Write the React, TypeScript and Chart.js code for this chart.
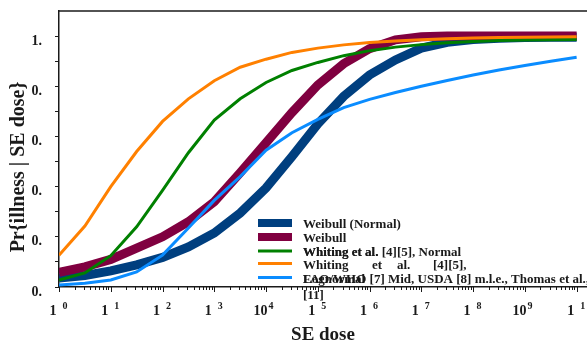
import React, { useEffect, useRef } from 'react';
import { Chart, registerables } from 'chart.js';

Chart.register(...registerables);

// SE dose (half-decade steps, 10^0 .. 10^10)
const doses = [1, 3.162, 10, 31.62, 100, 316.2, 1e3, 3162, 1e4, 3.162e4, 1e5, 3.162e5, 1e6, 3.162e6, 1e7, 3.162e7, 1e8, 3.162e8, 1e9, 3.162e9, 1e10];

const weibullNormal = [0.036, 0.046, 0.064, 0.088, 0.118, 0.16, 0.215, 0.295, 0.395, 0.52, 0.65, 0.76, 0.845, 0.905, 0.952, 0.975, 0.986, 0.991, 0.994, 0.995, 0.995];
const weibull = [0.058, 0.08, 0.11, 0.155, 0.2, 0.26, 0.34, 0.455, 0.575, 0.695, 0.805, 0.89, 0.95, 0.985, 0.997, 1.0, 1.0, 1.0, 1.0, 1.0, 1.0];
const whitingNormal = [0.028, 0.056, 0.125, 0.24, 0.385, 0.535, 0.665, 0.75, 0.815, 0.863, 0.895, 0.922, 0.942, 0.956, 0.966, 0.973, 0.978, 0.982, 0.984, 0.985, 0.986];
const whitingLognormal = [0.127, 0.243, 0.4, 0.54, 0.66, 0.75, 0.822, 0.876, 0.908, 0.935, 0.952, 0.965, 0.974, 0.98, 0.985, 0.989, 0.992, 0.994, 0.995, 0.996, 0.997];
const faoWho = [0.008, 0.015, 0.028, 0.06, 0.127, 0.235, 0.345, 0.44, 0.545, 0.615, 0.668, 0.715, 0.748, 0.775, 0.8, 0.823, 0.845, 0.865, 0.883, 0.9, 0.916];

const seriesLabels = [
  'Weibull (Normal)',
  'Weibull',
  'Whiting et al. [4][5], Normal',
  'Whiting et al. [4][5], Lognormal',
  'FAO/WHO [7] Mid, USDA [8] m.l.e., Thomas et al., [11]',
];

// x tick labels (base + superscript exponent), one per decade
const xTickBases = ['1', '1', '1', '1', '10', '1', '1', '1', '1', '10', '1'];
const xTickExps = ['0', '1', '2', '3', '4', '5', '6', '7', '8', '9', '1'];

// y tick labels for 0.0, 0.1, ... 1.0
const yTickText = ['0.', '', '0.', '', '0.', '', '0.', '', '0.', '', '1.'];

const yTitle = 'Pr{illness | SE dose}';
const xTitle = 'SE dose';

const FONT = '"Liberation Serif", "Times New Roman", serif';
const INK = '#1a1a1a';

const decoPlugin = {
  id: 'deco',
  afterDraw(chart: any) {
    const { ctx, chartArea: ca, scales } = chart;
    const xs = scales.x;
    ctx.save();

    // top frame line
    ctx.strokeStyle = INK;
    ctx.lineWidth = 1.5;
    ctx.beginPath();
    ctx.moveTo(ca.left, ca.top);
    ctx.lineTo(chart.width, ca.top);
    ctx.stroke();

    // x tick marks (major + minor)
    ctx.lineWidth = 1;
    for (let k = 0; k <= 10; k++) {
      for (let m = 1; m <= 9; m++) {
        const v = m * Math.pow(10, k);
        if (v > xs.max) break;
        const px = Math.round(xs.getPixelForValue(v)) + 0.5;
        const len = m === 1 ? 5 : 3;
        ctx.beginPath();
        ctx.moveTo(px, ca.bottom);
        ctx.lineTo(px, ca.bottom + len);
        ctx.stroke();
      }
    }

    // x tick labels
    ctx.fillStyle = INK;
    ctx.textBaseline = 'alphabetic';
    ctx.textAlign = 'center';
    xTickBases.forEach((b, k) => {
      const px = xs.getPixelForValue(Math.pow(10, k));
      const wide = b.length > 1;
      ctx.font = `bold 14px ${FONT}`;
      ctx.fillText(b, px + (wide ? -5.5 : -6), 315);
      ctx.font = `bold 10px ${FONT}`;
      ctx.fillText(xTickExps[k], px + (wide ? 5 : 6), 309);
    });

    // axis titles
    ctx.font = `bold 19px ${FONT}`;
    ctx.textAlign = 'center';
    ctx.fillText(xTitle, (ca.left + ca.right) / 2, 340);
    ctx.save();
    ctx.translate(24, 167);
    ctx.rotate(-Math.PI / 2);
    ctx.font = `bold 20px ${FONT}`;
    ctx.fillText(yTitle, 0, 0);
    ctx.restore();

    // legend
    const swY = [223, 237, 251, 263.5, 277.5];
    const txY = [228, 242, 256, 269, 283];
    const widths = [8, 8, 3, 3, 3];
    chart.data.datasets.forEach((ds: any, i: number) => {
      ctx.strokeStyle = ds.borderColor;
      ctx.lineWidth = widths[i];
      ctx.beginPath();
      ctx.moveTo(258, swY[i]);
      ctx.lineTo(292, swY[i]);
      ctx.stroke();
    });
    ctx.fillStyle = INK;
    ctx.textAlign = 'left';
    ctx.font = `bold 13px ${FONT}`;
    ctx.fillText('Weibull (Normal)', 303, txY[0]);
    ctx.fillText('Weibull', 303, txY[1]);
    ctx.fillText('Whiting et al. [4][5], Normal', 303, txY[2]);
    ctx.fillText('Whiting et al.', 303, txY[2], 78);
    const w4 = ['Whiting', 'et', 'al.', '[4][5],'];
    const x4 = [303, 372, 397, 433];
    w4.forEach((w, j) => ctx.fillText(w, x4[j], txY[3]));
    ctx.fillText('FAO/WHO [7] Mid, USDA [8] m.l.e., Thomas et al.,', 303, txY[4]);
    ctx.fillText('Lognormal', 303, txY[4]);
    ctx.fillText('[11]', 303, 299);

    ctx.restore();
  },
};

export default function App() {
  const ref = useRef<HTMLCanvasElement | null>(null);

  useEffect(() => {
    if (!ref.current) return;
    const mk = (label: string, data: number[], color: string, width: number, order: number) => ({
      label,
      data: doses.map((d, i) => ({ x: d, y: data[i] })),
      borderColor: color,
      backgroundColor: color,
      borderWidth: width,
      pointRadius: 0,
      tension: 0,
      fill: false,
      order,
    });
    const chart = new Chart(ref.current, {
      type: 'line',
      data: {
        datasets: [
          mk(seriesLabels[0], weibullNormal, '#003f7f', 9, 4),
          mk(seriesLabels[1], weibull, '#800040', 9, 3),
          mk(seriesLabels[2], whitingNormal, '#008000', 3, 2),
          mk(seriesLabels[3], whitingLognormal, '#ff8000', 3, 1),
          mk(seriesLabels[4], faoWho, '#0a8cff', 3, 0),
        ],
      },
      options: {
        responsive: false,
        animation: false,
        devicePixelRatio: 1,
        layout: { padding: { top: 11, left: 0, right: 0, bottom: 0 } },
        plugins: {
          legend: { display: false },
          tooltip: { enabled: false },
          title: { display: false },
        },
        scales: {
          x: {
            type: 'logarithmic',
            min: 1,
            max: 1.585e10,
            ticks: { display: false },
            grid: { display: true, drawOnChartArea: false, drawTicks: false },
            border: { display: true, color: INK, width: 1.5 },
            afterFit: (s: any) => {
              s.height = 55;
              s.paddingLeft = 0;
              s.paddingRight = 0;
            },
          },
          y: {
            type: 'linear',
            min: 0,
            max: 1.1,
            afterBuildTicks: (s: any) => {
              s.ticks = s.ticks.filter((t: any) => t.value < 1.05);
            },
            ticks: {
              stepSize: 0.1,
              autoSkip: false,
              padding: 13,
              labelOffset: 5,
              color: INK,
              font: { family: FONT, size: 14, weight: 'bold' },
              callback: (v: any) => yTickText[Math.round(Number(v) * 10)] ?? '',
            },
            grid: { display: true, drawOnChartArea: false, drawTicks: true, tickLength: 4, color: INK, lineWidth: 1 },
            border: { display: true, color: INK, width: 1.5 },
            afterFit: (s: any) => {
              s.width = 59;
              s.paddingTop = 0;
              s.paddingBottom = 0;
            },
          },
        },
      },
      plugins: [decoPlugin],
    } as any);
    return () => chart.destroy();
  }, []);

  return (
    <div style={{ position: 'fixed', left: 0, top: 0, width: 587, height: 342, background: '#fff' }}>
      <canvas ref={ref} width={587} height={342} style={{ display: 'block' }} />
    </div>
  );
}
